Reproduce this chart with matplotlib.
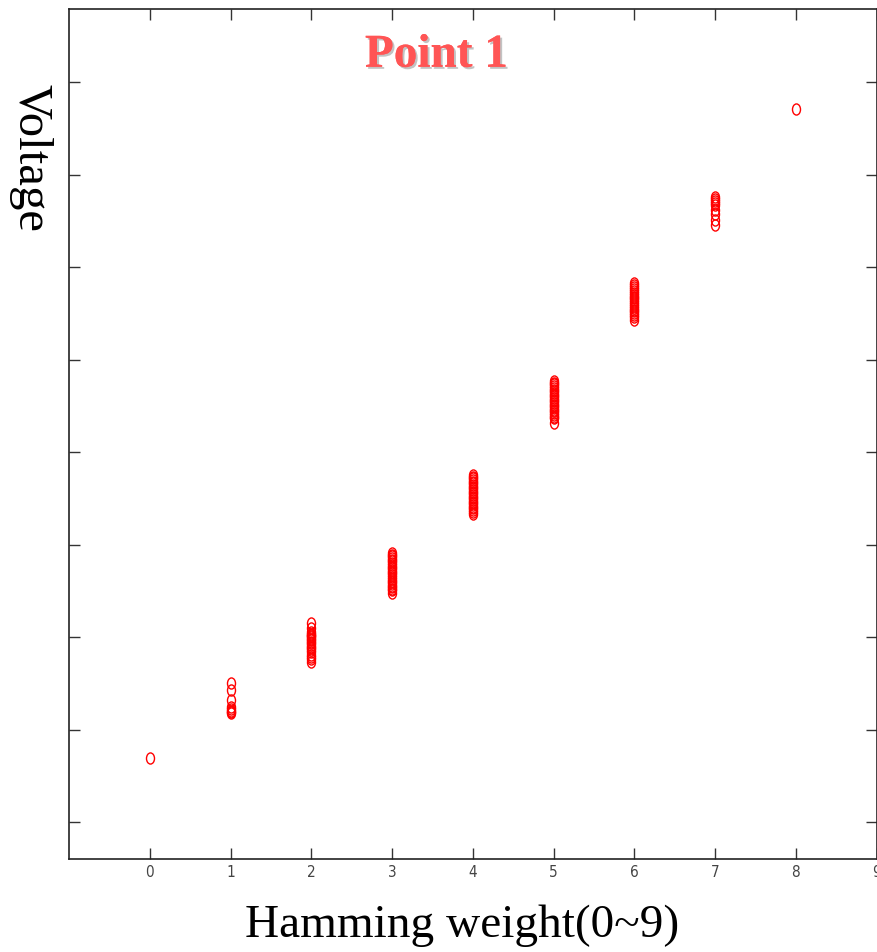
import matplotlib
matplotlib.use('Agg')
import matplotlib.pyplot as plt
import matplotlib.patheffects as pe
from matplotlib.path import Path
from matplotlib.transforms import Affine2D

hw0 = [0.692]
hw1 = [1.503, 1.427, 1.319, 1.243, 1.221, 1.200, 1.189, 1.178]
hw2 = [2.151, 2.097, 2.054, 2.038, 2.020, 2.011, 1.995, 1.982, 1.968, 1.950,
       1.936, 1.914, 1.897, 1.880, 1.859, 1.842, 1.805, 1.784, 1.762, 1.730]
hw3 = [2.908, 2.890, 2.872, 2.851, 2.833, 2.818, 2.797, 2.778, 2.760, 2.741,
       2.724, 2.702, 2.688, 2.667, 2.649, 2.630, 2.611, 2.593, 2.575, 2.556,
       2.539, 2.521, 2.505, 2.476]
hw4 = [3.751, 3.733, 3.716, 3.697, 3.680, 3.662, 3.643, 3.627, 3.608, 3.590,
       3.571, 3.553, 3.535, 3.518, 3.499, 3.482, 3.463, 3.445, 3.427, 3.408,
       3.391, 3.372, 3.355, 3.330]
hw5 = [4.768, 4.749, 4.731, 4.712, 4.695, 4.676, 4.658, 4.640, 4.622, 4.603,
       4.586, 4.567, 4.549, 4.531, 4.512, 4.495, 4.477, 4.459, 4.440, 4.422,
       4.405, 4.384, 4.365, 4.314]
hw6 = [5.827, 5.803, 5.784, 5.762, 5.741, 5.722, 5.700, 5.681, 5.660, 5.641,
       5.620, 5.601, 5.580, 5.562, 5.541, 5.522, 5.500, 5.481, 5.455, 5.427]
hw7 = [6.757, 6.740, 6.714, 6.690, 6.670, 6.616, 6.573, 6.508, 6.454]
hw8 = [7.708]

groups = [hw0, hw1, hw2, hw3, hw4, hw5, hw6, hw7, hw8]
x_ticks = [0, 1, 2, 3, 4, 5, 6, 7, 8, 9]
y_ticks = [0, 1, 2, 3, 4, 5, 6, 7, 8]

# slightly tall ellipse, like the stretched screenshot
ellipse = Path.unit_circle().transformed(Affine2D().scale(0.72, 1.0))

fig = plt.figure(figsize=(8.77, 9.52), dpi=100)
fig.patch.set_facecolor('white')
ax = fig.add_axes([69 / 877, 1 - 859 / 952, (876.5 - 69) / 877, (859 - 9) / 952])

for hw, volts in enumerate(groups):
    ax.plot([hw] * len(volts), volts, linestyle='none', marker=ellipse,
            markersize=8, markerfacecolor='none', markeredgecolor='red',
            markeredgewidth=1.0, antialiased=False)

ax.set_xlim(-1, 9)
ax.set_ylim(-0.4, 8.79)
ax.set_xticks(x_ticks)
ax.set_yticks(y_ticks)
ax.set_yticklabels([])
ax.tick_params(direction='in', length=8, width=1, color='#333333',
               top=True, right=True, pad=4)
ax.tick_params(axis='x', labelsize=11, labelcolor='#444444')
for lab in ax.get_xticklabels():
    lab.set_family(['Liberation Sans Narrow', 'DejaVu Sans'])
    lab.set_fontstretch('condensed')
for sp in ax.spines.values():
    sp.set_linewidth(1.2)
    sp.set_color('#222222')

ax.text(0.455, 0.945, 'Point 1', transform=ax.transAxes, ha='center', va='center',
        fontsize=34, fontweight='bold', family='Liberation Serif', color='#ff5555',
        path_effects=[pe.withSimplePatchShadow(offset=(1.5, -1.5), shadow_rgbFace='#aaaaaa', alpha=0.7),
                      pe.Normal()])

fig.text(462 / 877, 1 - 926 / 952, 'Hamming weight(0~9)', ha='center', va='center',
         fontsize=34, family='Liberation Serif', color='black')
fig.text(30 / 877, 1 - 158 / 952, 'Voltage', ha='center', va='center', rotation=-90,
         fontsize=35, family='Liberation Serif', color='black')

fig.savefig('out.png', dpi=100)
